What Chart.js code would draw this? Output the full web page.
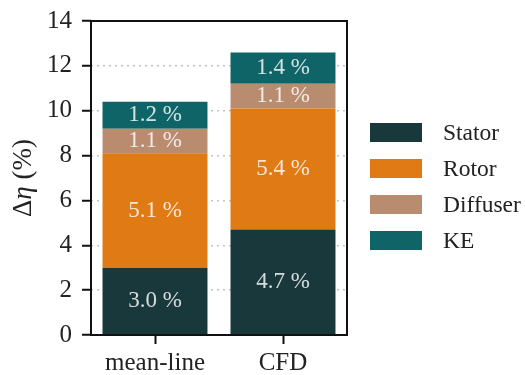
<!DOCTYPE html>
<html>
<head>
<meta charset="utf-8">
<script src="https://cdn.jsdelivr.net/npm/chart.js@4/dist/chart.umd.min.js"></script>
<style>
  html, body { margin: 0; padding: 0; background: #ffffff; }
  #wrap { width: 525px; height: 375px; }
</style>
</head>
<body>
<div id="wrap"><canvas id="c" width="525" height="375"></canvas></div>
<script>
// Efficiency loss breakdown, stacked per method
const categories = ['mean-line', 'CFD'];
const seriesNames = ['Stator', 'Rotor', 'Diffuser', 'KE'];
const stator   = [3.0, 4.7];
const rotor    = [5.1, 5.4];
const diffuser = [1.1, 1.1];
const ke       = [1.2, 1.4];
const yTickValues = [0, 2, 4, 6, 8, 10, 12, 14];

const colors = ['#19383b', '#e07a15', '#b98b6f', '#0f6468'];
const SERIF = "'Liberation Serif', 'Times New Roman', serif";
Chart.defaults.font.family = SERIF;

// Percentage labels centred inside each stacked segment
const segmentLabels = {
  id: 'segmentLabels',
  afterDatasetsDraw(chart) {
    const ctx = chart.ctx;
    ctx.save();
    ctx.font = '23px ' + SERIF;
    ctx.fillStyle = 'rgba(255,255,255,0.82)';
    ctx.textAlign = 'center';
    ctx.textBaseline = 'middle';
    chart.data.datasets.forEach((ds, di) => {
      const meta = chart.getDatasetMeta(di);
      meta.data.forEach((bar, i) => {
        const v = ds.data[i];
        ctx.fillText(v.toFixed(1) + ' %', bar.x, (bar.y + bar.base) / 2);
      });
    });
    ctx.restore();
  }
};

// Box around the plot area
const frame = {
  id: 'frame',
  afterDraw(chart) {
    const a = chart.chartArea, ctx = chart.ctx;
    ctx.save();
    ctx.strokeStyle = '#111';
    ctx.lineWidth = 2;
    ctx.strokeRect(a.left, a.top, a.right - a.left, a.bottom - a.top);
    ctx.restore();
  }
};

// Y axis title with an italic eta
const yTitle = {
  id: 'yTitle',
  afterDraw(chart) {
    const ctx = chart.ctx, a = chart.chartArea;
    const parts = [
      { t: '\u0394', f: '27px ' + SERIF },
      { t: '\u03B7', f: 'italic 27px ' + SERIF },
      { t: ' (%)', f: '27px ' + SERIF }
    ];
    ctx.save();
    let total = 0;
    parts.forEach(p => { ctx.font = p.f; p.w = ctx.measureText(p.t).width; total += p.w; });
    ctx.translate(31, (a.top + a.bottom) / 2);
    ctx.rotate(-Math.PI / 2);
    ctx.fillStyle = '#222';
    ctx.textBaseline = 'alphabetic';
    ctx.textAlign = 'left';
    let x = -total / 2;
    parts.forEach(p => { ctx.font = p.f; ctx.fillText(p.t, x, 0); x += p.w; });
    ctx.restore();
  }
};

// Legend to the right of the plot
const sideLegend = {
  id: 'sideLegend',
  afterDraw(chart) {
    const ctx = chart.ctx;
    const x0 = 370, boxW = 52, boxH = 19, rowGap = 36;
    const cy0 = 132.5;
    ctx.save();
    ctx.font = '23.5px ' + SERIF;
    ctx.textBaseline = 'middle';
    ctx.textAlign = 'left';
    chart.data.datasets.forEach((ds, i) => {
      const cy = cy0 + i * rowGap;
      ctx.fillStyle = ds.backgroundColor;
      ctx.fillRect(x0, cy - boxH / 2, boxW, boxH);
      ctx.fillStyle = '#222';
      ctx.fillText(ds.label, 443, cy + 1);
    });
    ctx.restore();
  }
};

const seriesData = [stator, rotor, diffuser, ke];

new Chart(document.getElementById('c'), {
  type: 'bar',
  data: {
    labels: categories,
    datasets: seriesNames.map((name, i) => ({
      label: name,
      data: seriesData[i],
      backgroundColor: colors[i],
      borderWidth: 0,
      barPercentage: 0.82,
      categoryPercentage: 1.0
    }))
  },
  options: {
    responsive: false,
    animation: false,
    layout: { padding: { left: 0, top: 21, right: 178, bottom: 0 } },
    plugins: {
      legend: { display: false },
      tooltip: { enabled: false }
    },
    scales: {
      x: {
        stacked: true,
        afterFit(s) { s.height = 40; s.paddingLeft = 0; s.paddingRight = 0; },
        border: { display: false },
        grid: {
          display: true,
          offset: false,
          drawOnChartArea: false,
          drawTicks: true,
          tickLength: 9,
          tickWidth: 2,
          tickColor: '#111'
        },
        ticks: {
          color: '#222',
          padding: 4,
          font: { family: SERIF, size: 25 }
        }
      },
      y: {
        stacked: true,
        min: 0,
        max: 14,
        afterFit(s) { s.width = 91; s.paddingTop = 0; s.paddingBottom = 0; },
        afterBuildTicks(s) { s.ticks = yTickValues.map(v => ({ value: v })); },
        border: { display: false, dash: [2, 4] },
        grid: {
          display: true,
          drawOnChartArea: true,
          drawTicks: true,
          tickLength: 9,
          tickWidth: 2,
          tickColor: '#111',
          lineWidth: 1.5,
          color(ctx) {
            const v = ctx.tick ? ctx.tick.value : null;
            return (v === 0 || v === 14) ? 'rgba(0,0,0,0)' : '#c4c4c4';
          }
        },
        ticks: {
          color: '#222',
          padding: 10,
          font: { family: SERIF, size: 25 },
          callback: v => String(v)
        }
      }
    }
  },
  plugins: [segmentLabels, frame, yTitle, sideLegend]
});
</script>
</body>
</html>
